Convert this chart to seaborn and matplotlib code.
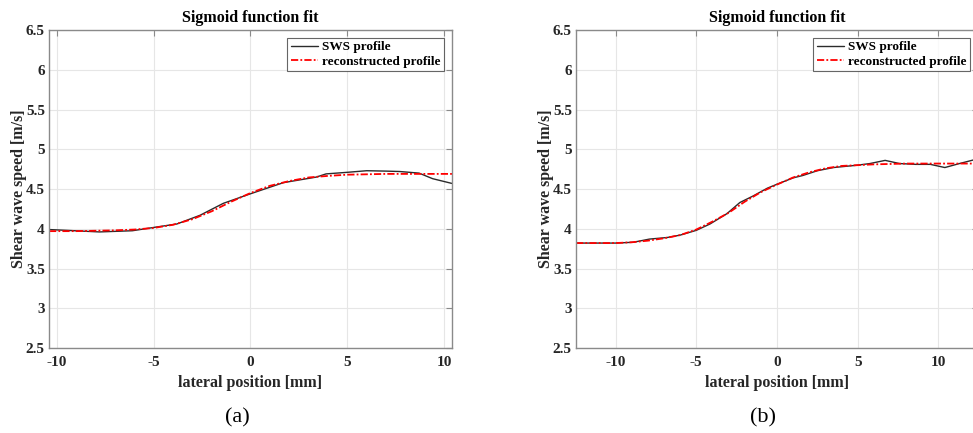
import matplotlib
matplotlib.use("Agg")
import matplotlib.pyplot as plt
import seaborn as sns
import pandas as pd

# ---- data ----
xa_sws = [-10.4, -9.5, -7.8, -6.1, -4.9, -3.8, -2.6, -1.4, 0.0, 1.7, 3.4, 3.9, 5.0, 6.0, 7.0, 7.7, 8.7, 9.4, 10.4]
ya_sws = [3.99, 3.98, 3.96, 3.975, 4.02, 4.06, 4.17, 4.32, 4.44, 4.58, 4.65, 4.69, 4.71, 4.73, 4.725, 4.72, 4.70, 4.63, 4.57]
xa_fit = [-10.4, -9, -8, -7, -6, -5, -4, -3, -2, -1, 0, 1, 2, 3, 4, 5, 6, 7, 8, 9, 10.4]
ya_fit = [3.97, 3.97, 3.975, 3.98, 3.99, 4.01, 4.05, 4.12, 4.22, 4.34, 4.45, 4.54, 4.60, 4.645, 4.665, 4.68, 4.685, 4.69, 4.69, 4.69, 4.69]

xb_sws = [-12.45, -10.0, -8.9, -7.9, -6.8, -6.0, -5.0, -4.15, -3.1, -2.3, -1.5, -0.6, 0.0, 1.0, 1.6, 2.5, 3.5, 5.0, 5.75, 6.7, 7.6, 8.6, 9.5, 10.4, 11.3, 12.45]
yb_sws = [3.82, 3.82, 3.83, 3.87, 3.89, 3.92, 3.98, 4.06, 4.19, 4.33, 4.41, 4.51, 4.56, 4.64, 4.67, 4.73, 4.77, 4.80, 4.82, 4.86, 4.82, 4.81, 4.81, 4.77, 4.82, 4.88]
xb_fit = [-12.45, -11, -10, -9, -8, -7, -6, -5, -4, -3, -2, -1, 0, 1, 2, 3, 4, 5, 6, 7, 8, 9, 10, 11, 12.45]
yb_fit = [3.82, 3.82, 3.82, 3.83, 3.85, 3.88, 3.92, 3.99, 4.09, 4.20, 4.34, 4.46, 4.556, 4.645, 4.71, 4.76, 4.79, 4.80, 4.81, 4.815, 4.82, 4.82, 4.82, 4.82, 4.82]

y_ticks = [2.5, 3, 3.5, 4, 4.5, 5, 5.5, 6, 6.5]
y_tick_labels = ["2.5", "3", "3.5", "4", "4.5", "5", "5.5", "6", "6.5"]
x_ticks = [-10, -5, 0, 5, 10]

sns.set_theme(style="white")
plt.rcParams["font.family"] = ["Liberation Serif", "DejaVu Serif"]
plt.rcParams["font.weight"] = "bold"

fig = plt.figure(figsize=(9.73, 4.33), dpi=100)
axA = fig.add_axes([0.0504, 0.1963, 0.4141, 0.7344])
axB = fig.add_axes([0.592, 0.1963, 0.4131, 0.7344])

panels = [
    (axA, xa_sws, ya_sws, xa_fit, ya_fit, (-10.4, 10.4)),
    (axB, xb_sws, yb_sws, xb_fit, yb_fit, (-12.45, 12.45)),
]

spine_c = "#8a8a8a"
for ax, xs, ys, xf, yf, xlim in panels:
    d1 = pd.DataFrame({"x": xs, "y": ys})
    d2 = pd.DataFrame({"x": xf, "y": yf})
    sns.lineplot(data=d1, x="x", y="y", ax=ax, color="#2b2b2b", lw=1.0,
                 label="SWS profile", sort=False)
    sns.lineplot(data=d2, x="x", y="y", ax=ax, color="#ff0000", lw=1.3,
                 linestyle=(0, (4, 1.2, 1, 1.2)), label="reconstructed profile", sort=False)
    ax.set_xlim(*xlim)
    ax.set_ylim(2.5, 6.5)
    ax.set_xticks(x_ticks)
    ax.set_xticklabels([str(t) for t in x_ticks])
    ax.set_yticks(y_ticks)
    ax.set_yticklabels(y_tick_labels)
    ax.grid(True, color="#e6e6e6", lw=0.8)
    ax.set_axisbelow(True)
    for s in ax.spines.values():
        s.set_color(spine_c)
        s.set_linewidth(1.0)
    ax.tick_params(direction="in", length=4, width=0.8, color=spine_c,
                   top=True, right=True, labelsize=11, labelcolor="#262626", pad=6)
    ax.tick_params(axis="y", pad=3)
    for lab in ax.get_xticklabels() + ax.get_yticklabels():
        lab.set_fontweight("bold")
    ax.set_xlabel("lateral position [mm]", fontsize=11.5, fontweight="bold",
                  color="#262626", labelpad=4)
    ax.set_ylabel("Shear wave speed [m/s]", fontsize=11.5, fontweight="bold",
                  color="#262626", labelpad=-1)
    ax.set_title("Sigmoid function fit", fontsize=11.5, fontweight="bold",
                 color="#000000", pad=6)
    leg = ax.legend(loc="upper right", frameon=True, fancybox=False,
                    edgecolor="#404040", borderpad=0.25, handlelength=2.1,
                    handletextpad=0.3, labelspacing=0.15, borderaxespad=0.6,
                    prop={"weight": "bold", "size": 9.5})
    leg.get_frame().set_linewidth(0.8)
    for t in leg.get_texts():
        t.set_color("#000000")

fig.text(237 / 973, 1 - 418 / 433, "(a)", ha="center", va="center",
         fontsize=16, fontweight="normal", color="#000000")
fig.text(763 / 973, 1 - 418 / 433, "(b)", ha="center", va="center",
         fontsize=16, fontweight="normal", color="#000000")

fig.savefig("out.png", dpi=100, facecolor="white")
